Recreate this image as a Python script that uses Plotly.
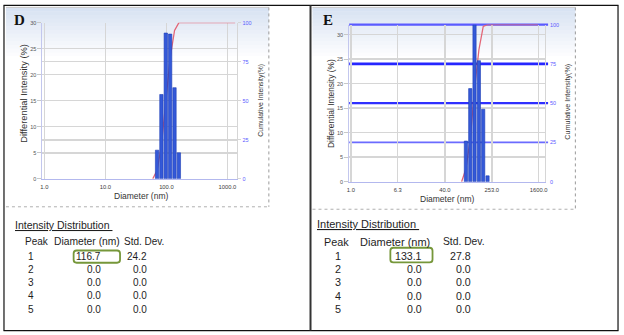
import plotly.graph_objects as go

W, H = 624, 335

# ---------------- data ----------------
# Panel D
d_diam = [70.5, 83.0, 97.9, 115.4, 136.1, 160.4]
d_int = [5.5, 16.2, 28.0, 27.8, 17.5, 5.0]
d_cum_diam = [59.8, 70.5, 83.0, 97.9, 115.4, 136.1, 160.4, 1340]
d_cum = [0, 5.5, 21.7, 49.7, 77.5, 95.0, 100, 100]
d_xticks = [1, 10, 100, 1000]
d_xlabels = ["1.0", "10.0", "100.0", "1000.0"]
d_yticks = [0, 5, 10, 15, 20, 25, 30]

# Panel E
e_diam = [91.8, 108.9, 128.8, 152.8, 181.1, 214.8]
e_int = [8.3, 19.0, 32.0, 24.7, 14.8, 1.2]
e_cum_diam = [77.4, 91.8, 108.9, 128.8, 152.8, 181.1, 214.8, 1550]
e_cum = [0, 8.3, 27.3, 59.3, 84.0, 98.8, 100, 100]
e_xticks = [1, 6.3, 40, 253, 1600]
e_xlabels = ["1.0", "6.3", "40.0", "253.0", "1600.0"]
e_yticks = [0, 5, 10, 15, 20, 25, 30]

cum_ticks = [0, 25, 50, 75, 100]

# tables
peaks = ["1", "2", "3", "4", "5"]
d_tab_diam = ["116.7", "0.0", "0.0", "0.0", "0.0"]
d_tab_std = ["24.2", "0.0", "0.0", "0.0", "0.0"]
e_tab_diam = ["133.1", "0.0", "0.0", "0.0", "0.0"]
e_tab_std = ["27.8", "0.0", "0.0", "0.0", "0.0"]


def fx(x):
    return x / W


def fy(y):
    return 1 - y / H


def bar_widths(xs, frac=0.055):
    return [x * (10 ** (frac / 2) - 10 ** (-frac / 2)) for x in xs]


BAR_FILL = "#3459d8"
BAR_EDGE = "#1d3cb5"
RED = "#e36677"

fig = go.Figure()

# Panel D traces
fig.add_trace(go.Scatter(x=d_cum_diam, y=d_cum, mode="lines", xaxis="x", yaxis="y",
                         line=dict(color=RED, width=1.3), hoverinfo="skip"))
fig.add_trace(go.Bar(x=d_diam, y=d_int, xaxis="x", yaxis="y2", width=bar_widths(d_diam),
                     marker=dict(color=BAR_FILL, line=dict(color=BAR_EDGE, width=0.6))))
# Panel E traces
fig.add_trace(go.Scatter(x=e_cum_diam, y=e_cum, mode="lines", xaxis="x2", yaxis="y3",
                         line=dict(color=RED, width=1.3), hoverinfo="skip"))
fig.add_trace(go.Bar(x=e_diam, y=e_int, xaxis="x2", yaxis="y4", width=bar_widths(e_diam),
                     marker=dict(color=BAR_FILL, line=dict(color=BAR_EDGE, width=0.6))))

GRID = "#d6d6d6"
TICKFONT = dict(family="Liberation Sans", size=5.5, color="#555555")
RTICKFONT = dict(family="Liberation Sans", size=5.5, color="#5b5bff")
XTICKFONT = dict(family="Liberation Sans", size=5.8, color="#3a3a3a")

common_x = dict(type="log", showgrid=True, gridcolor=GRID, gridwidth=1.5, showline=True,
                linecolor="#b3b8ee", linewidth=1, ticks="outside", ticklen=2,
                tickcolor="rgba(0,0,0,0)", tickfont=XTICKFONT, zeroline=False, fixedrange=True)

fig.update_layout(
    width=W, height=H, margin=dict(l=0, r=0, t=0, b=0),
    paper_bgcolor="white", plot_bgcolor="rgba(0,0,0,0)",
    showlegend=False, bargap=0.25,
    font=dict(family="Liberation Sans", color="#222222"),
    xaxis=dict(domain=[fx(40.7), fx(237.3)], range=[-0.033, 3.164], anchor="y",
               tickvals=d_xticks, ticktext=d_xlabels, **common_x),
    yaxis=dict(domain=[fy(179), fy(20)], range=[0, 100], side="right", anchor="x",
               tickvals=cum_ticks, tickfont=RTICKFONT, ticks="outside", ticklen=3,
               tickcolor=GRID, showgrid=True, gridcolor=GRID, gridwidth=1.5,
               showline=True, linecolor=GRID, zeroline=False),
    yaxis2=dict(overlaying="y", side="left", anchor="x", range=[0, 30],
                tickvals=d_yticks, tickfont=TICKFONT, ticks="outside", ticklen=4,
                tickcolor="#c8c8c8", showgrid=True, gridcolor=GRID, gridwidth=1.5,
                showline=True, linecolor="#c3c7ee", zeroline=False),
    xaxis2=dict(domain=[fx(350), fx(547.3)], range=[-0.029, 3.31], anchor="y3",
                tickvals=e_xticks, ticktext=e_xlabels, **common_x),
    yaxis3=dict(domain=[fy(182), fy(22)], range=[0, 100], side="right", anchor="x2",
                tickvals=cum_ticks, tickfont=RTICKFONT, ticks="outside", ticklen=3,
                tickcolor="rgba(0,0,0,0)", showgrid=False,
                showline=True, linecolor=GRID, zeroline=False),
    yaxis4=dict(overlaying="y3", side="left", anchor="x2", range=[0, 32.06],
                tickvals=e_yticks, tickfont=TICKFONT, ticks="outside", ticklen=4,
                tickcolor="#c8c8c8", showgrid=True, gridcolor=GRID, gridwidth=1.5,
                showline=True, linecolor="#c3c7ee", zeroline=False),
)

shapes = []

# gradient backgrounds of the two chart images
def gradient(x0, x1, y0, y1, n=14, top=(216, 227, 243)):
    out = []
    step = (y1 - y0) / n
    for i in range(n):
        t = i / (n - 1)
        c = tuple(int(top[k] + (255 - top[k]) * t) for k in range(3))
        out.append(dict(type="rect", xref="paper", yref="paper", layer="below",
                        x0=fx(x0), x1=fx(x1), y0=fy(y0 + step * (i + 1) + 0.5), y1=fy(y0 + step * i),
                        line=dict(width=0), fillcolor="rgb(%d,%d,%d)" % c))
    return out

shapes += gradient(4, 269, 4.5, 58)
shapes += gradient(313, 578, 4.5, 58)

# image frames
for (x0, x1, y0, y1) in [(4, 269, 4.5, 207.5), (313, 578, 4.5, 210)]:
    shapes.append(dict(type="line", xref="paper", yref="paper", x0=fx(x0), x1=fx(x1),
                       y0=fy(y0), y1=fy(y0), line=dict(color="#c8c8c8", width=1), layer="below"))
    shapes.append(dict(type="line", xref="paper", yref="paper", x0=fx(x1), x1=fx(x1),
                       y0=fy(y0), y1=fy(y1), line=dict(color="#9a9a9a", width=1, dash="dot"),
                       layer="below"))
    shapes.append(dict(type="line", xref="paper", yref="paper", x0=fx(x0), x1=fx(x1),
                       y0=fy(y1), y1=fy(y1), line=dict(color="#b0b0b0", width=1, dash="dot"),
                       layer="below"))

# blue right-axis grid lines of panel E (y positions from the right-axis scale)
E_TOP, E_BOT = 22, 182
blue_styles = {25: ("#6b6bff", 1.8), 50: ("#2f2fff", 2.4), 75: ("#2626ff", 2.8), 100: ("#5a5aff", 2.2)}
for v in cum_ticks[1:]:
    col, wd = blue_styles[v]
    ypx = E_BOT - (E_BOT - E_TOP) * v / 100.0
    shapes.append(dict(type="line", xref="paper", yref="paper", x0=fx(350), x1=fx(550.5),
                       y0=fy(ypx), y1=fy(ypx), line=dict(color=col, width=wd), layer="below"))

# outer table borders
BORDER = "#111111"
shapes += [
    dict(type="line", xref="paper", yref="paper", x0=fx(1.5), x1=fx(621.5), y0=fy(2.5), y1=fy(2.5),
         line=dict(color=BORDER, width=1.2)),
    dict(type="line", xref="paper", yref="paper", x0=fx(1.5), x1=fx(621.5), y0=fy(333.5), y1=fy(333.5),
         line=dict(color=BORDER, width=1.2)),
    dict(type="line", xref="paper", yref="paper", x0=fx(2), x1=fx(2), y0=fy(2.5), y1=fy(333.5),
         line=dict(color=BORDER, width=1.2)),
    dict(type="line", xref="paper", yref="paper", x0=fx(311), x1=fx(311), y0=fy(2.5), y1=fy(333.5),
         line=dict(color="#333333", width=2)),
    dict(type="line", xref="paper", yref="paper", x0=fx(621), x1=fx(621), y0=fy(2.5), y1=fy(333.5),
         line=dict(color=BORDER, width=1.2)),
]

# green rounded boxes
def rrect(x0, y0, x1, y1, r=3):
    p = "M %f,%f " % (fx(x0 + r), fy(y0))
    p += "L %f,%f " % (fx(x1 - r), fy(y0))
    p += "Q %f,%f %f,%f " % (fx(x1), fy(y0), fx(x1), fy(y0 + r))
    p += "L %f,%f " % (fx(x1), fy(y1 - r))
    p += "Q %f,%f %f,%f " % (fx(x1), fy(y1), fx(x1 - r), fy(y1))
    p += "L %f,%f " % (fx(x0 + r), fy(y1))
    p += "Q %f,%f %f,%f " % (fx(x0), fy(y1), fx(x0), fy(y1 - r))
    p += "L %f,%f " % (fx(x0), fy(y0 + r))
    p += "Q %f,%f %f,%f Z" % (fx(x0), fy(y0), fx(x0 + r), fy(y0))
    return p

GREEN = "#76973a"
shapes.append(dict(type="path", xref="paper", yref="paper", path=rrect(72.2, 252, 119, 264.5),
                   line=dict(color=GREEN, width=1.8)))
shapes.append(dict(type="path", xref="paper", yref="paper", path=rrect(391.5, 249.2, 434, 264.2),
                   line=dict(color=GREEN, width=1.8)))

fig.update_layout(shapes=shapes)

ann = []

def txt(x, y, s, size, color="#1e1e1e", anchor="left", angle=0, family="Liberation Sans"):
    ann.append(dict(xref="paper", yref="paper", x=fx(x), y=fy(y), text=s, showarrow=False,
                    xanchor=anchor, yanchor="middle", textangle=angle, borderpad=0,
                    font=dict(family=family, size=size, color=color)))

# panel letters
txt(11, 17, "<b>D</b>", 15, "#111111", family="Liberation Serif")
txt(323, 17, "<b>E</b>", 15, "#111111", family="Liberation Serif")

# axis titles
txt(22.5, 92, "Differential Intensity (%)", 9.3, "#333333", "center", -90)
txt(261, 98.5, "Cumulative Intensity(%)", 6.9, "#333333", "center", -90)
txt(140, 197, "Diameter (nm)", 8.5, "#333333", "center")
txt(331.5, 102, "Differential Intensity (%)", 8.4, "#333333", "center", -90)
txt(570, 100, "Cumulative Intensity(%)", 7.2, "#333333", "center", -90)
txt(449, 199.5, "Diameter (nm)", 8.5, "#333333", "center")

# tables
txt(12, 226, "<u>Intensity Distribution </u>", 10.5)
txt(35.5, 243, "Peak", 10, anchor="center")
txt(51.5, 243, "Diameter (nm)", 10.3)
txt(122, 243, "Std. Dev.", 10)
row_y_d = [257.7, 271.2, 284.8, 298.3, 312]
for i in range(5):
    txt(29.5, row_y_d[i], peaks[i], 10, anchor="center")
    txt(101.2, row_y_d[i], d_tab_diam[i], 10, anchor="right")
    txt(147.3, row_y_d[i], d_tab_std[i], 10, anchor="right")

txt(316.5, 225.5, "<u>Intensity Distribution </u>", 11)
txt(336.8, 243.3, "Peak", 10.8, anchor="center")
txt(360, 243.3, "Diameter (nm)", 11)
txt(443.3, 243.3, "Std. Dev.", 10.3)
row_y_e = [257.7, 271, 284.5, 298.3, 311.7]
for i in range(5):
    txt(338.5, row_y_e[i], peaks[i], 10.8, anchor="center")
    txt(424, row_y_e[i], e_tab_diam[i], 10.6, anchor="right")
    txt(474, row_y_e[i], e_tab_std[i], 10.6, anchor="right")

fig.update_layout(annotations=ann)

fig.write_html("out.html", config={"staticPlot": True},
               post_script="document.body.style.margin='0';")
